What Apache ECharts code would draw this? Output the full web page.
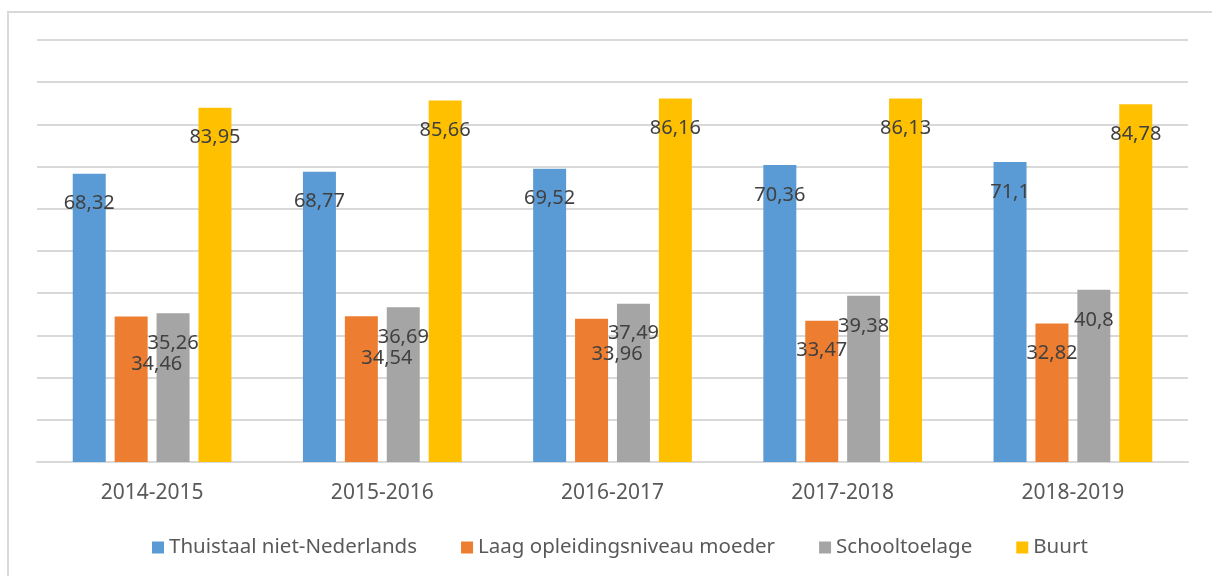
<!DOCTYPE html>
<html>
<head>
<meta charset="utf-8">
<script src="https://cdn.jsdelivr.net/npm/echarts@6/dist/echarts.min.js"></script>
<style>
  html, body { margin: 0; padding: 0; background: #fff; }
  #chart { width: 1212px; height: 576px; }
</style>
</head>
<body>
<div id="chart"></div>
<script>
// school years on the x axis
let years = ['2014-2015', '2015-2016', '2016-2017', '2017-2018', '2018-2019'];

// values per indicator
let thuistaal = [68.32, 68.77, 69.52, 70.36, 71.1];
let opleiding = [34.46, 34.54, 33.96, 33.47, 32.82];
let schooltoelage = [35.26, 36.69, 37.49, 39.38, 40.8];
let buurt = [83.95, 85.66, 86.16, 86.13, 84.78];

let seriesNames = ['Thuistaal niet-Nederlands', 'Laag opleidingsniveau moeder', 'Schooltoelage', 'Buurt'];
let seriesColors = ['#5b9bd5', '#ed7d31', '#a5a5a5', '#ffc000'];

const FONT = '"Noto Sans", "Open Sans", sans-serif';
const LABEL_DIST = 20;

// dutch decimal comma
function fmt(p){
	return String(p.value).replace('.', ',');
}

// keep orange label below the grey label when they collide (Excel did the same)
function orangeLayout(p){
	let i = p.dataIndex;
	let r = p.rect;
	let perUnit = r.height / opleiding[i];
	let base = r.y + r.height;
	let greyTop = base - schooltoelage[i] * perUnit;
	let minTop = greyTop + LABEL_DIST + 21;
	if (p.labelRect.y < minTop) {
		return { y: minTop, verticalAlign: 'top' };
	}
	return {};
}

let chart = echarts.init(document.getElementById('chart'));

let allData = [thuistaal, opleiding, schooltoelage, buurt];
let series = [];
for (let k = 0; k < allData.length; k++){
	let s = {
		name: seriesNames[k],
		type: 'bar',
		data: allData[k],
		barWidth: 33,
		barGap: '27%',
		itemStyle: { color: seriesColors[k] },
		label: {
			show: true,
			position: 'insideTop',
			distance: LABEL_DIST,
			formatter: fmt,
			color: '#404040',
			fontSize: 20,
			fontFamily: FONT
		}
	};
	if (k === 1) s.labelLayout = orangeLayout;
	series.push(s);
}

let option = {
	animation: false,
	backgroundColor: '#fff',
	graphic: [{
		type: 'rect',
		silent: true,
		shape: { x: 8, y: 12, width: 1400, height: 800 },
		style: { fill: 'none', stroke: '#d9d9d9', lineWidth: 2 }
	}],
	grid: { left: 37, right: 24, top: 40, bottom: 114 },
	legend: {
		data: seriesNames,
		left: 147,
		top: 532,
		icon: 'rect',
		itemWidth: 12,
		itemHeight: 12,
		itemGap: 44,
		textStyle: { color: '#595959', fontSize: 20.5, fontFamily: FONT }
	},
	xAxis: {
		type: 'category',
		data: years,
		axisLine: { lineStyle: { color: '#d9d9d9', width: 2 } },
		axisTick: { show: false },
		axisLabel: { color: '#595959', fontSize: 21, fontFamily: FONT, margin: 21 }
	},
	yAxis: {
		type: 'value',
		min: 0,
		max: 100,
		interval: 10,
		axisLine: { show: false },
		axisTick: { show: false },
		axisLabel: { show: false },
		splitLine: { lineStyle: { color: '#d9d9d9', width: 2 } }
	},
	series: series
};

chart.setOption(option);
</script>
</body>
</html>
